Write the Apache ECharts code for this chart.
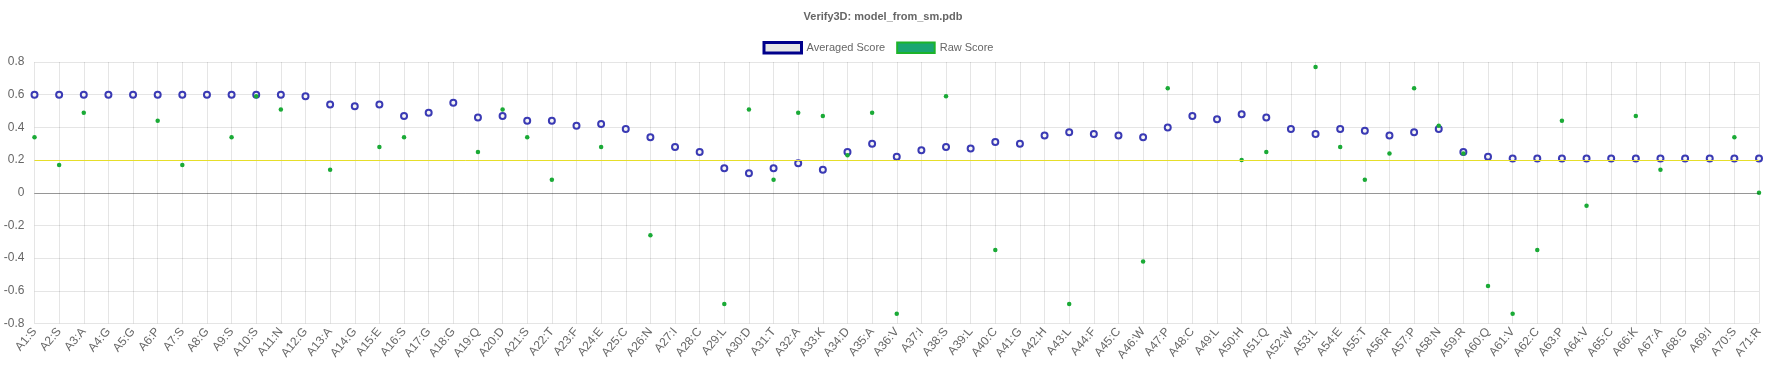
<!DOCTYPE html>
<html>
<head>
<meta charset="utf-8">
<script src="https://cdn.jsdelivr.net/npm/echarts@6/dist/echarts.min.js"></script>
<style>
  html, body { margin: 0; padding: 0; background: #fff; }
  #chart { width: 1766px; height: 375px; }
</style>
</head>
<body>
<div id="chart"></div>
<script>
const chartTitle = 'Verify3D: model_from_sm.pdb';
const residues = [
  'A1:S','A2:S','A3:A','A4:G','A5:G','A6:P','A7:S','A8:G','A9:S','A10:S',
  'A11:N','A12:G','A13:A','A14:G','A15:E','A16:S','A17:G','A18:G','A19:Q','A20:D',
  'A21:S','A22:T','A23:F','A24:E','A25:C','A26:N','A27:I','A28:C','A29:L','A30:D',
  'A31:T','A32:A','A33:K','A34:D','A35:A','A36:V','A37:I','A38:S','A39:L','A40:C',
  'A41:G','A42:H','A43:L','A44:F','A45:C','A46:W','A47:P','A48:C','A49:L','A50:H',
  'A51:Q','A52:W','A53:L','A54:E','A55:T','A56:R','A57:P','A58:N','A59:R','A60:Q',
  'A61:V','A62:C','A63:P','A64:V','A65:C','A66:K','A67:A','A68:G','A69:I','A70:S',
  'A71:R'
];
const averagedScore = [
  0.60,0.60,0.60,0.60,0.60,0.60,0.60,0.60,0.60,0.60,
  0.60,0.59,0.54,0.53,0.54,0.47,0.49,0.55,0.46,0.47,
  0.44,0.44,0.41,0.42,0.39,0.34,0.28,0.25,0.15,0.12,
  0.15,0.18,0.14,0.25,0.30,0.22,0.26,0.28,0.27,0.31,
  0.30,0.35,0.37,0.36,0.35,0.34,0.40,0.47,0.45,0.48,
  0.46,0.39,0.36,0.39,0.38,0.35,0.37,0.39,0.25,0.22,
  0.21,0.21,0.21,0.21,0.21,0.21,0.21,0.21,0.21,0.21,
  0.21
];
const rawScore = [
  0.34,0.17,0.49,null,null,0.44,0.17,null,0.34,0.59,
  0.51,null,0.14,null,0.28,0.34,null,null,0.25,0.51,
  0.34,0.08,null,0.28,null,-0.26,null,null,-0.68,0.51,
  0.08,0.49,0.47,0.23,0.49,-0.74,null,0.59,null,-0.35,
  null,null,-0.68,null,null,-0.42,0.64,null,null,0.20,
  0.25,null,0.77,0.28,0.08,0.24,0.64,0.41,0.24,-0.57,
  -0.74,-0.35,0.44,-0.08,null,0.47,0.14,null,null,0.34,
  0.00
];
const seriesNames = ['Averaged Score', 'Raw Score'];
const yMin = -0.8, yMax = 0.8, yStep = 0.2;
const threshold = 0.2;

const FONT = "'Liberation Sans', Arial, Helvetica, sans-serif";
const chart = echarts.init(document.getElementById('chart'), null, { renderer: 'canvas' });
chart.setOption({
  animation: false,
  backgroundColor: '#ffffff',
  title: {
    text: chartTitle,
    left: 'center',
    top: 6,
    textStyle: { fontFamily: FONT, fontSize: 11, fontWeight: 'bold', color: '#666666' }
  },
  legend: {
    left: 757.5,
    top: 36,
    padding: 5,
    itemWidth: 37.5,
    itemHeight: 10.5,
    itemGap: 11,
    icon: 'rect',
    textStyle: { fontFamily: FONT, fontSize: 11, color: '#666666' },
    data: [
      { name: seriesNames[0], icon: 'rect', itemStyle: { color: '#e6e6e6', borderColor: '#00008b', borderWidth: 3 } },
      { name: seriesNames[1], icon: 'rect', itemStyle: { color: '#1aa672', borderColor: '#1db32a', borderWidth: 2 } }
    ]
  },
  grid: {
    left: 34.5,
    right: 7,
    top: 62,
    bottom: 51.5,
    containLabel: false,
    outerBoundsMode: 'none'
  },
  xAxis: {
    type: 'category',
    data: residues,
    boundaryGap: false,
    axisLine: { show: true, lineStyle: { color: 'rgba(0,0,0,0.12)', width: 1 } },
    axisTick: { show: false },
    axisLabel: {
      interval: 0,
      rotate: 50,
      margin: 6,
      fontFamily: FONT,
      fontSize: 12,
      color: '#666666'
    },
    splitLine: { show: true, interval: 0, lineStyle: { color: 'rgba(0,0,0,0.1)', width: 1 } }
  },
  yAxis: {
    type: 'value',
    min: yMin,
    max: yMax,
    interval: yStep,
    axisLine: { show: false },
    axisTick: { show: false },
    axisLabel: {
      margin: 10,
      fontFamily: FONT,
      fontSize: 12,
      color: '#666666',
      formatter: v => String(Math.round(v * 10) / 10)
    },
    splitLine: { show: true, lineStyle: { color: 'rgba(0,0,0,0.1)', width: 1 } }
  },
  series: [
    {
      name: seriesNames[0],
      type: 'scatter',
      data: averagedScore,
      symbol: 'circle',
      symbolSize: 6,
      itemStyle: { color: '#f4f4f4', borderColor: '#3a3ab4', borderWidth: 2, opacity: 1 },
      z: 3,
      markLine: {
        silent: true,
        symbol: 'none',
        label: { show: false },
        data: [
          { yAxis: 0, lineStyle: { color: 'rgba(0,0,0,0.25)', width: 1, type: 'solid' } },
          { yAxis: threshold, lineStyle: { color: '#e6de2a', width: 1, type: 'solid' } }
        ]
      }
    },
    {
      name: seriesNames[1],
      type: 'scatter',
      data: rawScore,
      symbol: 'circle',
      symbolSize: 4.5,
      itemStyle: { color: '#1aaa36', opacity: 1 },
      z: 4
    }
  ]
});
</script>
</body>
</html>
